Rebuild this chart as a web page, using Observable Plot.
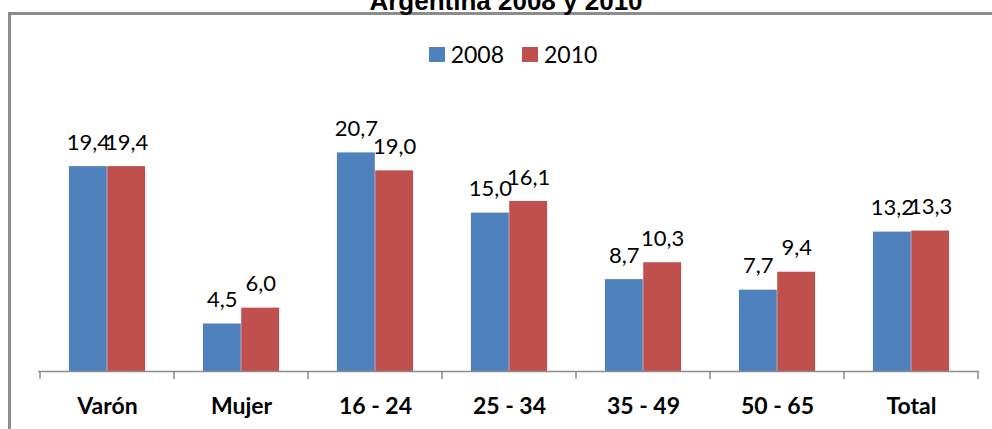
<!DOCTYPE html>
<html>
<head>
<meta charset="utf-8">
<script src="https://cdn.jsdelivr.net/npm/d3@7"></script>
<script src="https://cdn.jsdelivr.net/npm/@observablehq/plot@0.6"></script>
<style>
  html, body { margin: 0; padding: 0; background: #fff; overflow: hidden; }
  body { width: 992px; height: 429px; position: relative; }
  #frame { position: absolute; left: 8px; top: 12px; width: 1100px; height: 600px;
           border-left: 3px solid #8c8c8c; border-top: 3px solid #8c8c8c; }
  #title { position: absolute; left: 0; width: 1012px; top: -12px; text-align: center;
           font: bold 26px "Liberation Sans", Arial, sans-serif; line-height: 26px; color: #000; }
  #legend { position: absolute; left: 0; width: 1026px; top: 40px; display: flex; justify-content: center;
            align-items: center; font: 23px Lato, sans-serif; color: #000; }
  #legend .sw { display: inline-block; width: 16px; height: 15px; margin-right: 6px; }
  #legend .item { display: flex; align-items: center; margin: 0 9px; }
  #chart { position: absolute; left: 0; top: 0; }
</style>
</head>
<body>
<div id="frame"></div>
<div id="title">Argentina 2008 y 2010</div>
<div id="legend"></div>
<div id="chart"></div>
<script>
const categories = ["Varón", "Mujer", "16 - 24", "25 - 34", "35 - 49", "50 - 65", "Total"];
const values2008 = [19.4, 4.5, 20.7, 15.0, 8.7, 7.7, 13.2];
const values2010 = [19.4, 6.0, 19.0, 16.1, 10.3, 9.4, 13.3];
const seriesNames = ["2008", "2010"];
const seriesColors = ["#4F81BD", "#C0504D"];

const rows2008 = categories.map((c, i) => ({category: c, value: values2008[i], series: seriesNames[0]}));
const rows2010 = categories.map((c, i) => ({category: c, value: values2010[i], series: seriesNames[1]}));
const fmt = v => d3.format(".1f")(v).replace(".", ",");

const W = 992, H = 429;
const mL = 38, mR = 13, mT = 107, mB = 58;
const bw = (W - mL - mR) / categories.length;
const outer = bw * 0.215;
const bar = (bw - 2 * outer) / 2;

const font = "Lato, sans-serif";

const plot = Plot.plot({
  width: W,
  height: H,
  marginLeft: mL,
  marginRight: mR,
  marginTop: mT,
  marginBottom: mB,
  style: {background: "transparent", overflow: "visible"},
  x: {domain: categories, padding: 0, axis: null},
  y: {domain: [0, 25], axis: null},
  marks: [
    Plot.barY(rows2008, {x: "category", y: "value", fill: seriesColors[0], insetLeft: outer, insetRight: outer + bar}),
    Plot.barY(rows2010, {x: "category", y: "value", fill: seriesColors[1], insetLeft: outer + bar, insetRight: outer}),
    Plot.text(rows2008, {x: "category", y: "value", text: d => fmt(d.value), dx: -bar / 2, dy: -24,
      fontFamily: font, fontSize: 22, fill: "#000", lineAnchor: "middle"}),
    Plot.text(rows2010, {x: "category", y: "value", text: d => fmt(d.value), dx: bar / 2, dy: -24,
      fontFamily: font, fontSize: 22, fill: "#000", lineAnchor: "middle"}),
    Plot.ruleY([0], {stroke: "#8c8c8c", strokeWidth: 1.5}),
    Plot.text(categories, {x: d => d, y: () => 0, text: d => d, dy: 35,
      fontFamily: font, fontSize: 23, fontWeight: "bold", fill: "#000", lineAnchor: "middle"})
  ]
});

// category-boundary tick marks, placed with the plot's own x and y scales
const xs = plot.scale("x");
const ys = plot.scale("y");
const y0 = ys.apply(0);
const bounds = categories.map(c => xs.apply(c));
bounds.push(xs.apply(categories[categories.length - 1]) + xs.step);
d3.select(plot).append("g")
  .attr("stroke", "#8c8c8c").attr("stroke-width", 1.5)
  .selectAll("line").data(bounds).join("line")
  .attr("x1", d => d).attr("x2", d => d)
  .attr("y1", y0).attr("y2", y0 + 8);

document.getElementById("chart").appendChild(plot);

const legend = d3.select("#legend");
seriesNames.forEach((s, i) => {
  const it = legend.append("div").attr("class", "item");
  it.append("span").attr("class", "sw").style("background", seriesColors[i]);
  it.append("span").text(s);
});
</script>
</body>
</html>
